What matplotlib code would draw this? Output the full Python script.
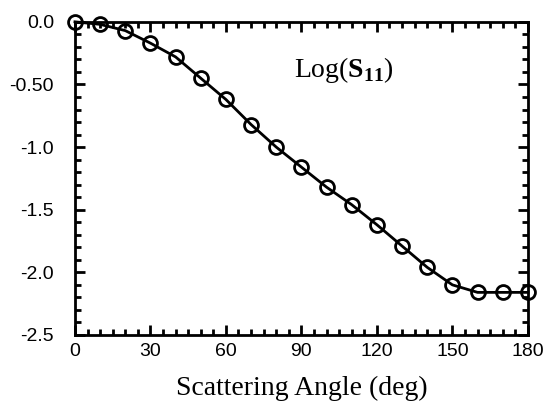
import matplotlib
matplotlib.use('Agg')
import matplotlib.pyplot as plt
from matplotlib.ticker import MultipleLocator

# data
angle = [0, 10, 20, 30, 40, 50, 60, 70, 80, 90, 100, 110, 120, 130, 140, 150, 160, 170, 180]
log_s11 = [0.0, -0.02, -0.07, -0.17, -0.28, -0.45, -0.62, -0.82, -1.0, -1.16,
           -1.32, -1.46, -1.62, -1.79, -1.96, -2.10, -2.16, -2.16, -2.16]
yticks = [0.0, -0.5, -1.0, -1.5, -2.0, -2.5]
ylabels = ['0.0', '-0.50', '-1.0', '-1.5', '-2.0', '-2.5']
xticks = [0, 30, 60, 90, 120, 150, 180]

plt.rcParams['font.family'] = 'Liberation Sans'
plt.rcParams['mathtext.fontset'] = 'custom'
plt.rcParams['mathtext.rm'] = 'Liberation Serif'
plt.rcParams['mathtext.bf'] = 'Liberation Serif:bold'

fig = plt.figure(figsize=(5.47, 4.12), dpi=100)
ax = fig.add_axes([0.137, 0.187, 0.828, 0.760])

ax.plot(angle, log_s11, color='black', lw=2, marker='o', ms=10, mfc='none', mew=2,
        clip_on=False, zorder=5)

ax.set_xlim(0, 180)
ax.set_ylim(-2.5, 0.0)
ax.set_xticks(xticks)
ax.set_yticks(yticks)
ax.set_yticklabels(ylabels)
ax.xaxis.set_minor_locator(MultipleLocator(5))
ax.yaxis.set_minor_locator(MultipleLocator(0.1))
ax.tick_params(which='both', direction='in', top=True, right=True, width=2, labelsize=14)
ax.tick_params(which='major', length=7)
ax.tick_params(which='minor', length=4)
ax.tick_params(axis='y', pad=15)
ax.tick_params(axis='x', pad=6)
for s in ax.spines.values():
    s.set_linewidth(2)

ax.set_xlabel('Scattering Angle (deg)', family='Liberation Serif', fontsize=20, labelpad=11)
ax.text(0.595, 0.845, r'Log($\mathbf{S}_{\mathbf{11}}$)', transform=ax.transAxes,
        ha='center', va='center', fontsize=20, family='Liberation Serif')

plt.savefig('out.png')
